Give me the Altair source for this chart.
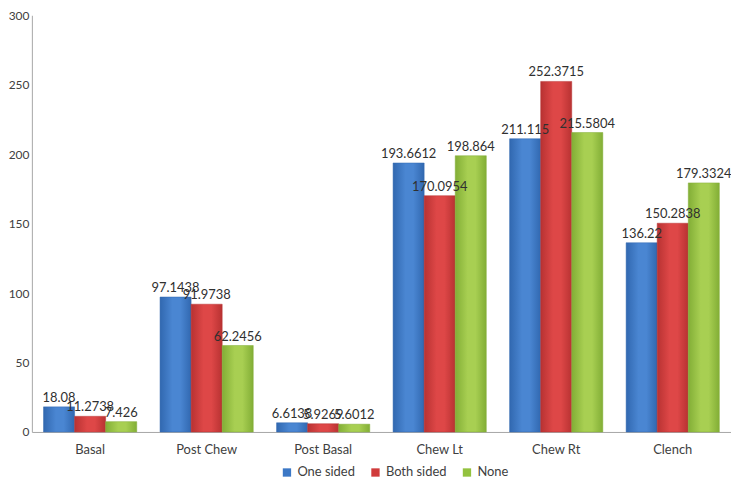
import altair as alt
import pandas as pd

categories = ["Basal", "Post Chew", "Post Basal", "Chew Lt", "Chew Rt", "Clench"]
series = ["One sided", "Both sided", "None"]
one_sided = [18.08, 97.1438, 6.6138, 193.6612, 211.115, 136.22]
both_sided = [11.2738, 91.9738, 5.9269, 170.0954, 252.3715, 150.2838]
none_vals = [7.426, 62.2456, 5.6012, 198.864, 215.5804, 179.3324]
labels_one = ["18.08", "97.1438", "6.6138", "193.6612", "211.115", "136.22"]
labels_both = ["11.2738", "91.9738", "5.9269", "170.0954", "252.3715", "150.2838"]
labels_none = ["7.426", "62.2456", "5.6012", "198.864", "215.5804", "179.3324"]

rows = []
for s, vals, labs in zip(series, [one_sided, both_sided, none_vals], [labels_one, labels_both, labels_none]):
    for c, v, l in zip(categories, vals, labs):
        rows.append({"cat": c, "series": s, "value": v, "label": l})
df = pd.DataFrame(rows)

solid = ["#3C78C6", "#D03B3B", "#93C23F"]
grads = [
    ("#3168B0", "#4A86D2"),
    ("#B83232", "#DE4747"),
    ("#82AE36", "#A8CF52"),
]

FONT = "Lato"

x_enc = alt.X("cat:N", sort=categories, title=None,
              scale=alt.Scale(paddingInner=0.2, paddingOuter=0.1),
              axis=alt.Axis(labelAngle=0, ticks=False, labelPadding=12,
                            domainColor="#A6A6A6", labelFont=FONT, labelFontSize=13,
                            labelColor="#404040"))
xo_enc = alt.XOffset("series:N", sort=series, scale=alt.Scale(domain=series, paddingInner=0))
y_enc = alt.Y("value:Q", title=None,
              scale=alt.Scale(domain=[0, 300]),
              axis=alt.Axis(values=[0, 50, 100, 150, 200, 250, 300], grid=False, ticks=False,
                            labelPadding=3, domainColor="#A6A6A6", labelFont=FONT,
                            labelFontSize=12, labelColor="#404040"))

base = alt.Chart(df)
layers = []
for s, (dark, light) in zip(series, grads):
    g = alt.Gradient(gradient="linear", x1=0, x2=1, y1=0, y2=0,
                     stops=[alt.GradientStop(color=dark, offset=0),
                            alt.GradientStop(color=light, offset=0.4),
                            alt.GradientStop(color=light, offset=0.65),
                            alt.GradientStop(color=dark, offset=1)])
    layers.append(
        base.transform_filter(alt.datum.series == s)
        .mark_bar(color=g, stroke=dark, strokeWidth=0.5)
        .encode(x=x_enc, xOffset=xo_enc, y=y_enc)
    )

legend_layer = base.mark_square(opacity=0).encode(
    x=x_enc, xOffset=xo_enc, y=y_enc,
    color=alt.Color("series:N", sort=series,
                    scale=alt.Scale(domain=series, range=solid),
                    legend=alt.Legend(orient="none", legendX=250, legendY=453,
                                      direction="horizontal", title=None,
                                      symbolType="square", symbolSize=70, symbolOpacity=1,
                                      labelFont=FONT, labelFontSize=13, labelColor="#404040",
                                      columnPadding=14, symbolStrokeWidth=0))
)

text_layer = base.mark_text(dy=-9, font=FONT, fontSize=13, color="#303030").encode(
    x=x_enc, xOffset=xo_enc, y=y_enc, text="label:N"
)

chart = alt.layer(*layers, legend_layer, text_layer).properties(
    width=703, height=419,
    autosize=alt.AutoSizeParams(type="none"),
    padding={"left": 24, "top": 6, "right": 0, "bottom": 50},
).configure_view(stroke=None)

chart.save("out.html", embed_options={"renderer": "svg", "actions": False})
